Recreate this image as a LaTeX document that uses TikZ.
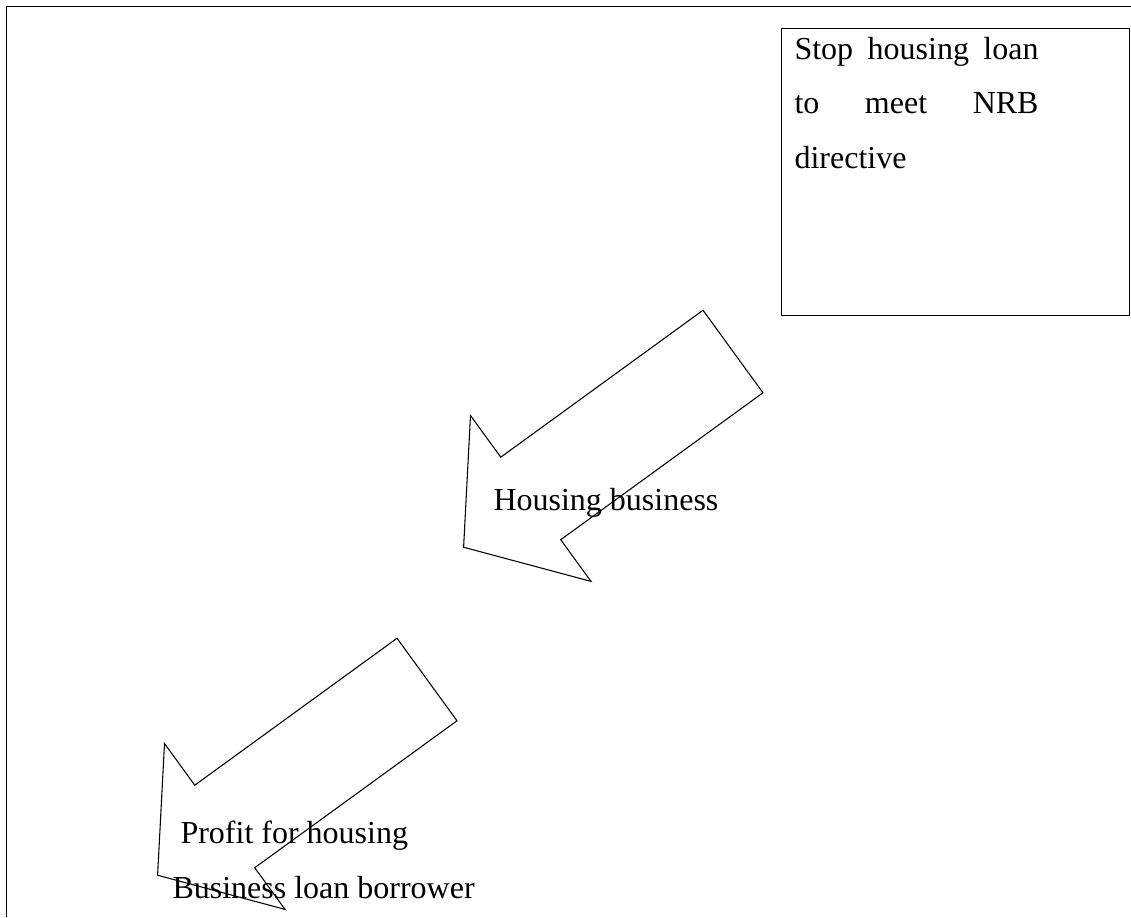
\documentclass[tikz,border=0pt]{standalone}
\usepackage{fontspec}
\setmainfont{Liberation Serif}
\usetikzlibrary{calc}
\usetikzlibrary{positioning}
\tikzset{
    boxnode/.style={
        rectangle,              % 方框
        draw,                   % 添加边框
        inner sep=0pt,
        minimum width=130.5pt,  % 框的宽度
        minimum height=107.6pt  % 框的高度
    },
    stoptext/.style={
        inner sep=0pt,
        text width=91.5pt,      % 两端对齐的宽度
        align=justify,
        font=\fontsize{12}{20.3}\selectfont
    },
    labeltext/.style={
        inner sep=0pt,
        font=\fontsize{12}{20.6}\selectfont
    }
}
\begin{document}
\begin{tikzpicture}[x=0.375pt, y=-0.375pt]
\useasboundingbox (0,0) rectangle (1131,917);

\def\th{144}
\def\W{51}
\def\H{102.5}
\def\L{250}
\def\Hd{83}
\def\shiftx{-306}
\def\shifty{328}
% 定义点
\coordinate (F1) at (6.5,917);
\coordinate (F2) at (6.5,6.5);
\coordinate (F3) at (1131,6.5);

\coordinate (T1) at (733,351.5);
\pgfmathsetmacro{\x}{733+\shiftx}
\pgfmathsetmacro{\y}{351.5+\shifty}
\coordinate (T2) at (\x,\y);

% 第一个箭头
\coordinate (A1) at ($(T1)+(\th+90:\W)$);
\coordinate (A2) at ($(T1)+(\th:\L)+(\th+90:\W)$);
\coordinate (A3) at ($(T1)+(\th:\L)+(\th+90:\H)$);
\coordinate (A4) at ($(T1)+(\th:\L+\Hd)$);
\coordinate (A5) at ($(T1)+(\th:\L)+(\th-90:\H)$);
\coordinate (A6) at ($(T1)+(\th:\L)+(\th-90:\W)$);
\coordinate (A7) at ($(T1)+(\th-90:\W)$);

% 第二个箭头
\coordinate (B1) at ($(T2)+(\th+90:\W)$);
\coordinate (B2) at ($(T2)+(\th:\L)+(\th+90:\W)$);
\coordinate (B3) at ($(T2)+(\th:\L)+(\th+90:\H)$);
\coordinate (B4) at ($(T2)+(\th:\L+\Hd)$);
\coordinate (B5) at ($(T2)+(\th:\L)+(\th-90:\H)$);
\coordinate (B6) at ($(T2)+(\th:\L)+(\th-90:\W)$);
\coordinate (B7) at ($(T2)+(\th-90:\W)$);

\draw (F1) -- (F2) -- (F3);

\node[boxnode, anchor=north west] (stop) at (781,28) {};
\node[stoptext, anchor=north west] (stoptxt) at ($(stop.north west)+(13,9)$)
    {Stop housing loan\linebreak to meet NRB\linebreak directive};

\draw (A1) -- (A2) -- (A3) -- (A4) -- (A5) -- (A6) -- (A7) -- cycle;
\node[labeltext, anchor=base west] (housing) at (493,510) {Housing business};

\draw (B1) -- (B2) -- (B3) -- (B4) -- (B5) -- (B6) -- (B7) -- cycle;
\node[labeltext, anchor=north west, align=left] (profit) at (172,820)
    {\hspace*{3pt}Profit for housing\\Business loan borrower};

\end{tikzpicture}
\end{document}
